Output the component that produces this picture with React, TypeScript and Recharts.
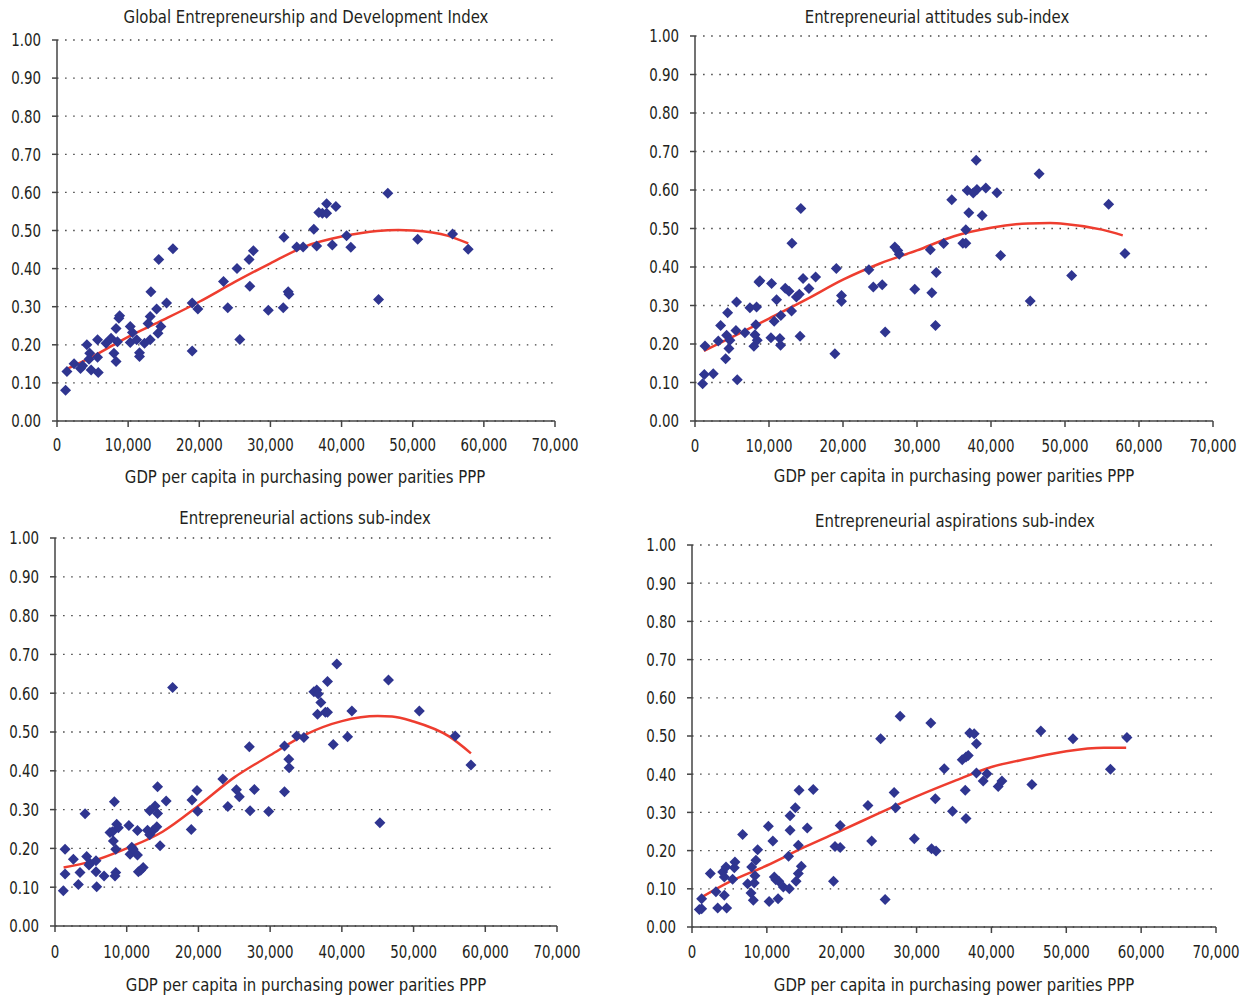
import React from 'react';
import { ComposedChart, Scatter, Line, XAxis, YAxis, CartesianGrid } from 'recharts';

const FONT = "'Liberation Sans Narrow', 'Arial Narrow', 'DejaVu Sans Condensed', sans-serif";
const TEXT = '#231F20';
const AXIS = '#444444';
const DOT = '#2F3590';
const TREND = '#EE3D2F';

const xTicks = [0, 10000, 20000, 30000, 40000, 50000, 60000, 70000];
const yTicks = [0, 0.1, 0.2, 0.3, 0.4, 0.5, 0.6, 0.7, 0.8, 0.9, 1.0];
const xAxisTitle = 'GDP per capita in purchasing power parities PPP';

const titles = [
  'Global Entrepreneurship and Development Index',
  'Entrepreneurial attitudes sub-index',
  'Entrepreneurial actions sub-index',
  'Entrepreneurial aspirations sub-index',
];

// GDP per capita (thousands PPP) and index values
const gediGdp = [1.2, 1.4, 2.4, 3.3, 3.6, 4.2, 4.6, 4.5, 4.8, 5.8, 5.7, 5.7, 6.9, 7.6, 8.0, 8.3, 8.5, 8.3, 8.7, 8.8, 10.3, 10.6, 10.3, 11.2, 11.6, 11.6, 12.3, 13.1, 12.8, 13.1, 13.2, 14.0, 14.2, 14.6, 14.3, 15.4, 16.3, 19.0, 19.0, 19.8, 23.4, 24.0, 25.3, 25.7, 27.0, 27.6, 27.1, 29.7, 31.8, 31.9, 32.5, 32.6, 33.7, 34.6, 36.1, 36.5, 36.8, 37.3, 37.9, 37.9, 39.2, 38.7, 40.7, 41.3, 45.2, 46.5, 50.7, 55.6, 57.8];
const gediVal = [0.081, 0.13, 0.15, 0.138, 0.145, 0.2, 0.178, 0.162, 0.134, 0.127, 0.213, 0.167, 0.204, 0.217, 0.178, 0.156, 0.208, 0.243, 0.27, 0.276, 0.248, 0.232, 0.206, 0.213, 0.179, 0.169, 0.204, 0.213, 0.256, 0.274, 0.339, 0.294, 0.23, 0.248, 0.424, 0.31, 0.452, 0.184, 0.31, 0.294, 0.366, 0.297, 0.4, 0.214, 0.424, 0.447, 0.354, 0.291, 0.297, 0.482, 0.339, 0.333, 0.457, 0.457, 0.503, 0.459, 0.547, 0.545, 0.57, 0.545, 0.563, 0.462, 0.486, 0.456, 0.319, 0.598, 0.477, 0.491, 0.451];
const gediTrendGdp = [1.2, 5, 10, 15, 20, 25, 30, 35, 40, 45, 48, 50, 55, 57.8];
const gediTrendVal = [0.135, 0.169, 0.221, 0.266, 0.313, 0.365, 0.414, 0.459, 0.484, 0.499, 0.501, 0.5, 0.486, 0.466];

const attGdp = [1.03, 1.26, 2.47, 1.35, 3.15, 3.46, 4.14, 4.41, 4.27, 4.59, 4.72, 5.62, 5.71, 5.53, 6.75, 7.42, 7.96, 8.1, 8.32, 8.23, 8.41, 8.64, 8.77, 10.35, 10.26, 11.02, 11.47, 11.56, 10.7, 11.6, 12.2, 12.7, 13.05, 13.1, 13.7, 14.1, 14.3, 14.2, 14.6, 15.4, 16.3, 18.9, 19.1, 19.8, 19.8, 23.5, 24.1, 25.3, 25.7, 27.0, 27.4, 27.6, 29.7, 31.8, 32.0, 32.5, 32.6, 33.6, 34.7, 36.2, 36.6, 36.6, 37.0, 36.8, 37.6, 38.1, 38.0, 38.8, 39.3, 40.8, 41.3, 45.3, 46.5, 50.9, 55.9, 58.1];
const attVal = [0.097, 0.121, 0.123, 0.195, 0.208, 0.248, 0.162, 0.281, 0.223, 0.188, 0.21, 0.309, 0.107, 0.235, 0.229, 0.294, 0.194, 0.224, 0.296, 0.25, 0.21, 0.361, 0.364, 0.357, 0.216, 0.315, 0.214, 0.197, 0.259, 0.274, 0.345, 0.337, 0.286, 0.462, 0.322, 0.329, 0.552, 0.22, 0.37, 0.344, 0.374, 0.175, 0.396, 0.326, 0.311, 0.393, 0.348, 0.354, 0.231, 0.452, 0.443, 0.433, 0.342, 0.445, 0.333, 0.248, 0.386, 0.461, 0.575, 0.462, 0.462, 0.497, 0.541, 0.599, 0.592, 0.601, 0.677, 0.534, 0.605, 0.593, 0.43, 0.312, 0.642, 0.378, 0.563, 0.435];
const attTrendGdp = [1.2, 5, 10, 15, 20, 25, 30, 35, 40, 45, 48, 50, 55, 57.8];
const attTrendVal = [0.182, 0.218, 0.266, 0.315, 0.367, 0.409, 0.443, 0.48, 0.502, 0.513, 0.514, 0.512, 0.497, 0.482];

const actGdp = [1.16, 1.4, 1.4, 2.56, 3.26, 3.49, 4.19, 4.42, 4.74, 4.88, 5.72, 5.72, 5.81, 6.84, 7.67, 8.0, 8.14, 8.28, 8.47, 8.47, 8.37, 8.6, 8.84, 10.3, 10.7, 10.47, 10.9, 11.5, 11.5, 11.63, 11.95, 12.3, 12.9, 13.2, 13.2, 13.7, 13.95, 14.3, 14.3, 14.2, 14.65, 15.5, 16.4, 19.0, 19.1, 19.8, 19.9, 23.4, 24.1, 25.3, 25.7, 27.1, 27.8, 27.2, 29.8, 32.0, 32.0, 32.6, 32.65, 33.7, 34.7, 36.1, 36.5, 36.7, 37.07, 36.6, 37.7, 38.0, 38.0, 39.3, 38.8, 40.8, 41.4, 45.3, 46.5, 50.8, 55.8, 58.0];
const actVal = [0.091, 0.198, 0.134, 0.172, 0.107, 0.138, 0.289, 0.179, 0.157, 0.162, 0.168, 0.14, 0.101, 0.129, 0.241, 0.243, 0.219, 0.32, 0.198, 0.138, 0.129, 0.262, 0.253, 0.259, 0.203, 0.185, 0.198, 0.183, 0.246, 0.14, 0.144, 0.151, 0.247, 0.235, 0.297, 0.247, 0.309, 0.29, 0.359, 0.256, 0.207, 0.322, 0.615, 0.249, 0.325, 0.349, 0.296, 0.379, 0.308, 0.351, 0.333, 0.462, 0.352, 0.297, 0.295, 0.464, 0.346, 0.43, 0.408, 0.49, 0.486, 0.604, 0.608, 0.598, 0.576, 0.546, 0.551, 0.551, 0.63, 0.675, 0.468, 0.488, 0.554, 0.266, 0.634, 0.554, 0.49, 0.415];
const actTrendGdp = [1.2, 5, 10, 15, 20, 25, 30, 35, 40, 45, 47, 50, 55, 58];
const actTrendVal = [0.151, 0.166, 0.2, 0.243, 0.31, 0.383, 0.44, 0.494, 0.528, 0.541, 0.54, 0.527, 0.488, 0.445];

const aspGdp = [0.98, 1.29, 1.29, 2.45, 3.2, 3.43, 4.32, 4.1, 4.32, 4.54, 4.63, 5.43, 5.65, 5.74, 6.76, 7.43, 7.88, 7.97, 8.19, 8.32, 8.41, 8.54, 8.77, 10.2, 10.3, 10.8, 11.0, 11.2, 11.6, 11.5, 12.2, 13.0, 12.9, 13.1, 13.1, 13.8, 13.9, 14.2, 14.2, 14.6, 14.3, 15.4, 16.2, 18.9, 19.1, 19.8, 19.8, 23.5, 24.0, 25.2, 25.8, 27.0, 27.2, 27.8, 29.7, 31.9, 32.0, 32.6, 32.5, 33.7, 34.8, 36.1, 36.6, 36.9, 36.5, 36.6, 37.1, 37.7, 38.0, 38.0, 38.9, 39.4, 40.9, 41.4, 45.4, 46.6, 50.9, 55.9, 58.1];
const aspVal = [0.046, 0.048, 0.074, 0.14, 0.092, 0.05, 0.083, 0.144, 0.131, 0.157, 0.05, 0.125, 0.155, 0.17, 0.242, 0.113, 0.089, 0.157, 0.07, 0.115, 0.134, 0.175, 0.202, 0.264, 0.067, 0.225, 0.131, 0.124, 0.12, 0.074, 0.105, 0.1, 0.185, 0.291, 0.253, 0.312, 0.12, 0.214, 0.14, 0.159, 0.358, 0.259, 0.36, 0.12, 0.211, 0.208, 0.266, 0.318, 0.225, 0.493, 0.072, 0.352, 0.312, 0.552, 0.231, 0.534, 0.205, 0.199, 0.336, 0.414, 0.303, 0.438, 0.445, 0.449, 0.358, 0.284, 0.508, 0.506, 0.48, 0.403, 0.382, 0.401, 0.368, 0.382, 0.373, 0.513, 0.493, 0.413, 0.496];
const aspTrendGdp = [1.2, 5, 10, 15, 20, 25, 30, 35, 40, 45, 50, 55, 58];
const aspTrendVal = [0.077, 0.118, 0.161, 0.209, 0.253, 0.298, 0.342, 0.382, 0.419, 0.441, 0.46, 0.469, 0.469];

const zip = (xs: number[], ys: number[]) => xs.map((x, i) => ({ x: x * 1000, y: ys[i] }));

const fmtX = (v: number) => v.toLocaleString('en-US');
const fmtY = (v: number) => v.toFixed(2);

const TICK_FS = 17.5;
const TICK_SX = 0.85;

const XTick = (p: any) => (
  <g transform={`translate(${p.x},${p.y})`}>
    <text transform={`scale(${TICK_SX},1)`} textAnchor="middle" dy="0.71em" fill={TEXT} fontSize={TICK_FS} fontFamily={FONT}>
      {fmtX(p.payload.value)}
    </text>
  </g>
);

const YTick = (p: any) => (
  <g transform={`translate(${p.x},${p.y})`}>
    <text transform={`scale(${TICK_SX},1)`} textAnchor="end" dy="0.36em" fill={TEXT} fontSize={TICK_FS} fontFamily={FONT}>
      {fmtY(p.payload.value)}
    </text>
  </g>
);

const Diamond = (p: any) => {
  const { cx, cy } = p;
  if (cx == null || cy == null) return null;
  const r = 5.5;
  return <path d={`M${cx},${cy - r}L${cx + r},${cy}L${cx},${cy + r}L${cx - r},${cy}Z`} fill={DOT} />;
};

type PanelProps = {
  left: number; top: number; width: number; height: number;
  mTop: number; mRight: number; yW: number; xH: number; xTm: number;
  pts: { x: number; y: number }[]; trend: { x: number; y: number }[];
  title: string; titleX: number; titleY: number; axX: number; axY: number;
};

const textDiv = (x: number, cy: number, s: string) => (
  <div style={{ position: 'absolute', left: x, top: cy - 10, transform: 'translateX(-50%) scaleX(0.92)', whiteSpace: 'nowrap', fontFamily: FONT, fontSize: 18, lineHeight: '20px', color: TEXT }}>{s}</div>
);

function Panel(p: PanelProps) {
  return (
    <>
      {textDiv(p.titleX, p.titleY, p.title)}
      <div style={{ position: 'absolute', left: p.left, top: p.top }}>
        <ComposedChart width={p.width} height={p.height} margin={{ top: p.mTop, right: p.mRight, bottom: 0, left: 0 }}>
          <CartesianGrid horizontal vertical={false} stroke={AXIS} strokeWidth={1.3} strokeDasharray="1.5 6.6" />
          <XAxis type="number" dataKey="x" domain={[0, 70000]} ticks={xTicks} interval={0}
            height={p.xH} tickSize={6} tickMargin={p.xTm} stroke={AXIS} strokeWidth={1.5} tick={<XTick />} allowDataOverflow />
          <YAxis type="number" dataKey="y" domain={[0, 1]} ticks={yTicks} interval={0}
            width={p.yW} tickSize={5} tickMargin={11} stroke={AXIS} strokeWidth={1.5} tick={<YTick />} allowDataOverflow />
          <Scatter data={p.pts} fill={DOT} shape={Diamond} isAnimationActive={false} />
          <Line data={p.trend} dataKey="y" type="monotone" stroke={TREND} strokeWidth={2.5} dot={false} activeDot={false} isAnimationActive={false} />
        </ComposedChart>
      </div>
      {textDiv(p.axX, p.axY, xAxisTitle)}
    </>
  );
}

export default function App() {
  return (
    <div style={{ position: 'absolute', left: 0, top: 0, width: 1249, height: 999, background: '#fff', overflow: 'hidden' }}>
      <Panel left={0} top={0} width={600} height={500} mTop={40} mRight={45} yW={57} xH={79} xTm={12}
        pts={zip(gediGdp, gediVal)} trend={zip(gediTrendGdp, gediTrendVal)} title={titles[0]} titleX={306} titleY={17} axX={305} axY={477} />
      <Panel left={630} top={0} width={619} height={500} mTop={36} mRight={36} yW={65} xH={79} xTm={13}
        pts={zip(attGdp, attVal)} trend={zip(attTrendGdp, attTrendVal)} title={titles[1]} titleX={937} titleY={17} axX={954} axY={476} />
      <Panel left={0} top={500} width={600} height={499} mTop={38} mRight={43} yW={55} xH={73} xTm={14}
        pts={zip(actGdp, actVal)} trend={zip(actTrendGdp, actTrendVal)} title={titles[2]} titleX={305} titleY={518} axX={306} axY={985} />
      <Panel left={630} top={500} width={619} height={499} mTop={45} mRight={33} yW={62} xH={72} xTm={13}
        pts={zip(aspGdp, aspVal)} trend={zip(aspTrendGdp, aspTrendVal)} title={titles[3]} titleX={955} titleY={521} axX={954} axY={985} />
    </div>
  );
}
